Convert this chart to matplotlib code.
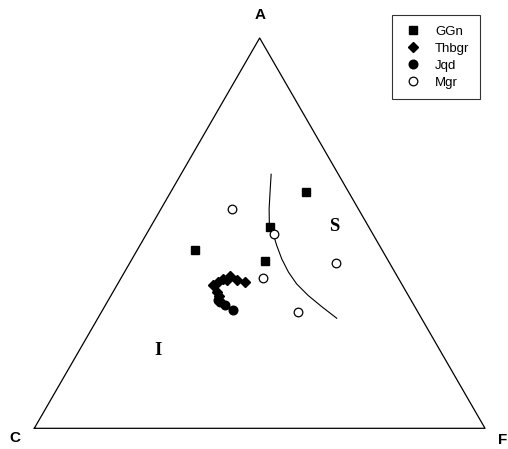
import matplotlib.pyplot as plt
import numpy as np

plt.rcParams['font.family'] = 'Liberation Sans'

# ACF ternary diagram, compositions in percent (C = 100 - A - F)
ggn_A = [60.6, 51.7, 45.7, 42.8]
ggn_F = [30.0, 26.5, 12.9, 29.7]

thbgr_A = [36.6, 37.4, 38.3, 39.1, 37.9, 37.9, 37.4, 34.9, 34.0]
thbgr_F = [21.4, 22.1, 22.8, 23.8, 23.8, 26.0, 28.0, 23.1, 24.0]

jqd_A = [32.3, 32.8, 31.5, 30.2]
jqd_F = [25.0, 24.4, 26.6, 28.9]

mgr_A = [56.1, 49.9, 38.6, 42.3, 29.7]
mgr_F = [15.9, 28.3, 31.4, 45.7, 43.7]

# I/S boundary
line_A = [65.1, 60.4, 56.2, 52.3, 49.8, 46.8, 43.4, 40.0, 37.0, 34.0, 31.1, 28.2]
line_F = [20.0, 22.1, 24.0, 26.0, 28.1, 30.4, 33.2, 36.4, 39.7, 43.8, 48.3, 53.0]


def to_xy(a, f):
    a = np.asarray(a) / 100.0
    f = np.asarray(f) / 100.0
    return f + a / 2, a * np.sqrt(3) / 2


fig = plt.figure(figsize=(5.08, 4.49), dpi=100)
ax = fig.add_axes([0, 0, 1, 1])
ax.set_xlim(-0.0761, 1.0510)
ax.set_ylim(-0.0459, 0.9503)
ax.axis('off')

h = np.sqrt(3) / 2
ax.plot([0, 1, 0.5, 0], [0, 0, h, 0], color='black', lw=0.9)

x, y = to_xy(line_A, line_F)
ax.plot(x, y, color='black', lw=0.8)

x, y = to_xy(ggn_A, ggn_F)
ax.plot(x, y, 's', color='black', ms=6, ls='none', label='GGn')
x, y = to_xy(thbgr_A, thbgr_F)
ax.plot(x, y, 'D', color='black', ms=5.2, ls='none', label='Thbgr')
x, y = to_xy(jqd_A, jqd_F)
ax.plot(x, y, 'o', color='black', ms=6.2, ls='none', label='Jqd')
x, y = to_xy(mgr_A, mgr_F)
ax.plot(x, y, 'o', mfc='white', mec='black', mew=0.9, ms=6.2, ls='none', label='Mgr')

ax.text(0.5, h + 0.035, 'A', ha='center', va='bottom', fontsize=11, fontweight='bold')
ax.text(-0.043, -0.022, 'C', ha='center', va='center', fontsize=11, fontweight='bold')
ax.text(1.04, -0.025, 'F', ha='center', va='center', fontsize=11, fontweight='bold')
ax.text(0.666, 0.448, 'S', ha='center', va='center', fontsize=13.5, fontweight='bold', family='Liberation Serif')
ax.text(0.275, 0.172, 'I', ha='center', va='center', fontsize=13.5, fontweight='bold', family='Liberation Serif')

leg = ax.legend(loc='upper left', bbox_to_anchor=(391.5 / 508, 1 - 15 / 449), fontsize=9.5,
                frameon=True, fancybox=False, edgecolor='black', borderpad=0.8,
                handletextpad=0.9, handlelength=1.6, labelspacing=0.36, borderaxespad=0)
leg.get_frame().set_linewidth(0.8)

fig.savefig('out.png', dpi=100)
